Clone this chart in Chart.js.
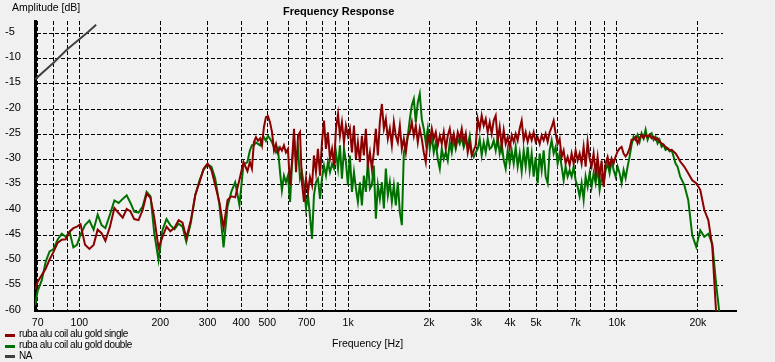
<!DOCTYPE html>
<html>
<head>
<meta charset="utf-8">
<title>Frequency Response</title>
<script src="https://cdn.jsdelivr.net/npm/chart.js@4.4.0/dist/chart.umd.min.js"></script>
<style>
    html, body { margin: 0; padding: 0; background: #f0f0f0; }
    #wrap { position: relative; width: 775px; height: 362px; font-family: 'Liberation Sans', Arial, sans-serif; color: #000; }
    #chart { position: absolute; left: 0; top: 0; }
    .txt { position: absolute; white-space: nowrap; line-height: 1; }
    .sw { position: absolute; left: 5px; width: 10px; height: 3px; }
</style>
</head>
<body>
<div id="wrap">
    <canvas id="chart" width="775" height="362"></canvas>
    <div class="txt" style="left:12px; top:2px; font-size:10.5px;">Amplitude [dB]</div>
    <div class="txt" style="left:283px; top:6px; font-size:11px; font-weight:bold;">Frequency Response</div>
    <div class="txt" style="left:332px; top:338px; font-size:10.5px;">Frequency [Hz]</div>

    <div class="sw" style="top:334px; background:#8b0000;"></div>
    <div class="txt" style="left:19px; top:329px; font-size:10px; letter-spacing:-0.4px;">ruba alu coil alu gold single</div>
    <div class="sw" style="top:345px; background:#007000;"></div>
    <div class="txt" style="left:19px; top:340px; font-size:10px; letter-spacing:-0.4px;">ruba alu coil alu gold double</div>
    <div class="sw" style="top:355px; background:#404040;"></div>
    <div class="txt" style="left:19px; top:351px; font-size:10px; letter-spacing:-0.4px;">NA</div>
</div>

<script>
// frequencies (Hz) for both measurements
const FREQ = [
    68.5, 70, 72.5, 75, 77.5, 80, 83, 86, 89, 92, 95, 98, 101, 105, 109, 113, 117, 121, 125, 130,
    135, 140, 145, 150, 155, 160, 166, 172, 178, 184, 190, 197, 204, 211, 218, 226, 234, 242, 250, 260,
    270, 280, 290, 300, 310, 320, 332, 344, 356, 368, 380, 394, 408, 422,
    431, 438.5, 446, 454, 462, 470, 478, 486, 494.5, 503, 512, 521, 530, 539, 548, 558, 567, 577, 587, 597,
    608, 618, 629, 640, 651, 662, 673, 685, 697, 709, 721, 734, 746, 759, 772, 786, 799, 813, 827, 841,
    856, 871, 886, 901, 917, 932, 948, 965, 981, 998, 1015, 1033, 1051, 1069, 1087, 1106, 1125, 1144, 1164, 1184,
    1205, 1225, 1246, 1268, 1290, 1312, 1335, 1358, 1381, 1405, 1429, 1454, 1479, 1504, 1530, 1557, 1584, 1611, 1639, 1667,
    1696, 1725, 1755, 1785, 1816, 1847, 1879, 1911, 1944, 1978, 2012, 2047, 2082, 2118, 2155, 2192, 2230, 2268, 2307, 2347,
    2388, 2429, 2471, 2513, 2557, 2601, 2646, 2691, 2738, 2785, 2833, 2882, 2932, 2982, 3034, 3086, 3139, 3194, 3249, 3305,
    3362, 3420, 3479, 3539, 3600, 3662, 3726, 3790, 3855, 3922, 3990, 4059, 4129, 4200, 4272, 4346, 4421, 4498, 4575, 4654,
    4735, 4816, 4900, 4984, 5070, 5158, 5247, 5337, 5429, 5523, 5618, 5715, 5814, 5914, 6016, 6120, 6226, 6333, 6442, 6554,
    6667, 6782, 6899, 7018, 7139, 7263, 7388, 7516, 7645, 7777, 7912, 8048, 8187, 8329, 8472, 8619, 8768, 8919, 9073, 9230,
    9389, 9551, 9716, 9884, 10055, 10228, 10405, 10585, 10767, 10953, 11142, 11335, 11531, 11730, 11932, 12138, 12348, 12561, 12778, 12999,
    13223, 13452, 13684, 13920, 14161, 14405, 14654, 14907, 15164, 15426, 15693, 15964, 16239, 16520, 16805,
    17190, 17790, 18410, 19060, 19720, 20410, 21130, 21870, 22630, 23420, 24240
];

// ruba alu coil alu gold single (dB)
const SINGLE = [
    -55.8, -54.2, -52.9, -51.6, -49.8, -48.4, -46.5, -45.9, -45.8, -44.3,
    -43.6, -43.3, -42.8, -46.9, -47.7, -46.9, -43.9, -44.6, -46.1, -43.3,
    -39.6, -40.6, -41.5, -39.8, -40.3, -41.8, -42.0, -40.0, -36.8, -37.6,
    -41.5, -47.5, -45.3, -43.3, -44.2, -43.5, -42.0, -42.5, -45.5, -42.0,
    -37.0, -34.5, -31.8, -30.8, -32.1, -35.0, -38.5, -43.5, -38.0, -37.3,
    -37.5, -34.0, -30.5, -32.3,
    // 431 Hz - 1.2 kHz
    -30.5, -31.8, -26.6, -25.6, -26.3, -25.8, -27.2, -23.6, -21.6, -21.4,
    -22.6, -24.6, -28.2, -26.9, -28.6, -27.6, -28.2, -27.2, -28.6, -27.9,
    -35.1, -30.5, -23.9, -32.5, -25.3, -24.6, -34.5, -38.4, -33.8, -36.4,
    -33.5, -35.1, -29.2, -32.5, -27.9, -33.2, -26.6, -22.3, -27.9, -24.6,
    -29.9, -27.9, -31.2, -23.9, -21.0, -25.3, -22.6, -26.6, -23.3, -25.3,
    -23.9, -28.6, -23.3, -29.9, -26.6, -30.5, -25.3, -29.2, -23.9, -31.2,
    -28.6,
    // 1.2 kHz - 3.4 kHz
    -31.8, -28.6, -23.9, -29.2, -22.6, -19.0, -23.9, -22.0, -25.9, -23.9,
    -27.2, -22.6, -25.3, -26.6, -23.3, -27.9, -25.9, -28.6, -25.3, -24.6,
    -22.6, -25.3, -23.3, -26.6, -23.9, -25.9, -28.6, -30.5, -25.3, -26.6,
    -23.9, -25.9, -24.6, -27.2, -25.3, -26.9, -24.6, -27.9, -25.3, -23.9,
    -26.6, -24.9, -27.2, -24.6, -25.9, -23.9, -26.6, -24.9, -28.6, -26.6,
    -29.2, -28.2, -27.2, -22.0, -23.9, -21.3, -23.3, -22.0, -24.6, -22.6,
    // 3.4 kHz - 9.7 kHz
    -24.9, -22.3, -21.3, -26.2, -23.6, -27.5, -24.2, -26.9, -25.6, -27.8,
    -25.2, -26.5, -24.9, -26.2, -23.9, -22.3, -26.2, -24.6, -26.5, -24.9,
    -26.2, -24.6, -26.5, -25.6, -26.9, -25.2, -26.2, -24.9, -26.5, -24.6,
    -23.6, -22.3, -24.9, -26.9, -25.9, -29.5, -28.2, -30.8, -29.5, -31.1,
    -28.8, -30.8, -28.2, -30.2, -28.8, -30.8, -27.5, -31.4, -26.5, -29.8,
    -31.4, -28.8, -32.7, -29.5, -33.4, -30.2, -35.4, -30.8, -29.5, -31.4,
    -29.8, -30.8,
    // 9.9 kHz - 16.8 kHz
    -29.4, -28.4, -27.8, -27.5, -28.8, -29.4, -28.8, -27.8, -26.1, -26.1,
    -25.5, -26.8, -25.8, -25.1, -25.8, -25.1, -25.5, -25.1, -25.8, -25.5,
    -26.1, -25.8, -26.5, -26.8, -27.1, -27.5, -27.8, -28.1, -28.1, -28.4,
    -28.8, -29.4,
    // roll-off
    -30.4, -31.4, -32.7, -34.1, -34.7, -36.0, -40.0, -42.0, -47.3, -61.0, -62.0
];

// ruba alu coil alu gold double (dB)
const DOUBLE = [
    -58.9, -56.0, -53.9, -50.2, -48.2, -47.8, -45.9, -44.7, -45.3, -44.3,
    -47.4, -46.9, -44.9, -43.0, -42.1, -43.9, -40.9, -43.0, -43.6, -40.9,
    -38.1, -38.6, -37.8, -37.1, -38.6, -40.3, -40.5, -39.3, -36.4, -37.3,
    -44.6, -49.9, -43.9, -41.8, -43.0, -43.8, -42.7, -43.3, -46.3, -42.5,
    -37.0, -34.1, -32.0, -31.0, -31.4, -33.7, -39.0, -47.4, -39.3, -36.3,
    -34.5, -39.0, -31.0, -30.5,
    // 431 Hz - 1.2 kHz
    -28.2, -27.2, -27.2, -26.6, -26.9, -27.2, -25.9, -25.6, -26.3, -25.3,
    -25.9, -26.6, -27.6, -28.6, -27.9, -32.5, -36.1, -33.2, -34.5, -33.2,
    -38.4, -31.2, -25.9, -29.9, -27.9, -33.8, -32.5, -35.1, -39.7, -37.1,
    -41.1, -45.7, -37.1, -34.5, -33.8, -37.8, -33.8, -31.2, -33.2, -30.5,
    -32.5, -30.9, -31.8, -28.6, -31.8, -27.2, -33.8, -27.9, -30.5, -35.1,
    -29.2, -36.4, -32.5, -35.8, -38.4, -34.5, -39.1, -33.2, -36.4, -30.5,
    -35.8,
    // 1.2 kHz - 3.4 kHz
    -35.1, -31.2, -41.7, -35.1, -37.8, -34.5, -39.7, -31.8, -37.1, -34.5,
    -38.4, -35.1, -39.1, -34.5, -40.4, -43.0, -28.6, -27.2, -25.3, -22.0,
    -19.3, -18.0, -22.6, -18.7, -17.0, -22.0, -23.9, -26.6, -23.9, -27.9,
    -25.3, -28.6, -26.6, -29.9, -31.8, -27.9, -29.9, -28.6, -30.2, -26.6,
    -28.6, -25.9, -27.9, -25.9, -26.9, -25.6, -27.6, -26.3, -27.2, -25.3,
    -28.6, -29.5, -28.6, -27.9, -25.9, -29.2, -26.6, -28.6, -25.9, -27.9,
    // 3.4 kHz - 9.7 kHz
    -27.5, -26.2, -28.2, -25.6, -28.8, -26.9, -30.1, -31.8, -28.2, -30.8,
    -28.2, -30.8, -27.5, -31.4, -28.8, -32.4, -28.2, -31.4, -27.5, -32.1,
    -28.8, -33.4, -29.5, -34.7, -28.8, -32.1, -28.2, -33.4, -34.7, -28.2,
    -26.2, -28.8, -27.5, -30.8, -28.8, -31.4, -34.1, -31.4, -33.4, -32.1,
    -33.4, -31.4, -34.1, -35.4, -37.3, -34.7, -38.0, -33.4, -35.4, -32.7,
    -35.4, -32.7, -34.7, -31.4, -36.0, -33.4, -34.7, -32.1, -30.8, -32.7,
    -30.2, -32.1,
    // 9.9 kHz - 16.8 kHz
    -33.4, -31.4, -32.7, -34.7, -32.1, -33.7, -31.4, -29.4, -27.1, -25.5,
    -26.1, -25.1, -26.5, -24.8, -25.8, -24.1, -26.1, -25.1, -24.8, -26.1,
    -25.5, -26.8, -26.1, -27.5, -27.1, -28.1, -27.8, -28.4, -28.1, -29.4,
    -30.8, -31.4,
    // roll-off
    -33.4, -35.0, -38.0, -45.0, -47.3, -44.0, -45.3, -44.7, -46.7, -55.0, -62.0
];

// NA reference line
const NA_FREQ = [68.5, 80, 90, 100, 108, 115.5];
const NA_DB = [-14.1, -10.9, -8.2, -6.2, -4.7, -3.3];

// axis ticks
const X_TICKS = [70, 80, 90, 100, 200, 300, 400, 500, 600, 700, 800, 900, 1000, 2000, 3000, 4000, 5000, 6000, 7000, 8000, 9000, 10000, 20000];
const X_LABELS = ['70', '', '', '100', '200', '300', '400', '500', '', '700', '', '', '1k', '2k', '3k', '4k', '5k', '', '7k', '', '', '10k', '20k'];
const Y_TICKS = [-60, -55, -50, -45, -40, -35, -30, -25, -20, -15, -10, -5];

function toPoints(xs, ys) {
    return xs.map((x, i) => ({ x: x, y: ys[i] }));
}

// the x axis line runs a little past the plot on the right
const axisTail = {
    id: 'axisTail',
    afterDraw(chart) {
        const { ctx, chartArea } = chart;
        ctx.save();
        ctx.strokeStyle = '#000';
        ctx.lineWidth = 2;
        ctx.beginPath();
        ctx.moveTo(chartArea.right, chartArea.bottom);
        ctx.lineTo(chartArea.right + 14, chartArea.bottom);
        ctx.stroke();
        ctx.restore();
    }
};

const tickFont = { family: "'Liberation Sans', Arial, sans-serif", size: 11 };

new Chart(document.getElementById('chart').getContext('2d'), {
    type: 'line',
    data: {
        datasets: [
            {
                label: 'ruba alu coil alu gold single',
                data: toPoints(FREQ, SINGLE),
                borderColor: '#8b0000',
                borderWidth: 2,
                pointRadius: 0,
                tension: 0,
                order: 1
            },
            {
                label: 'ruba alu coil alu gold double',
                data: toPoints(FREQ, DOUBLE),
                borderColor: '#007000',
                borderWidth: 2,
                pointRadius: 0,
                tension: 0,
                order: 2
            },
            {
                label: 'NA',
                data: toPoints(NA_FREQ, NA_DB),
                borderColor: '#404040',
                borderWidth: 2,
                pointRadius: 0,
                tension: 0,
                order: 0
            }
        ]
    },
    options: {
        responsive: false,
        animation: false,
        devicePixelRatio: 1,
        layout: { padding: { left: 5, top: 21, right: 52, bottom: 0 } },
        plugins: {
            legend: { display: false },
            tooltip: { enabled: false },
            title: { display: false }
        },
        scales: {
            x: {
                type: 'logarithmic',
                min: 68.4,
                max: 24800,
                afterFit: s => { s.height = 51; },
                afterBuildTicks: s => { s.ticks = X_TICKS.map(v => ({ value: v })); },
                grid: { color: '#000', lineWidth: 1, drawTicks: false },
                border: { display: true, color: '#000', width: 2, dash: [4, 2] },
                ticks: {
                    autoSkip: false,
                    maxRotation: 0,
                    minRotation: 0,
                    padding: 6,
                    color: '#000',
                    font: { family: tickFont.family, size: 10.5 },
                    callback: (v, i) => X_LABELS[i]
                }
            },
            y: {
                type: 'linear',
                min: -60,
                max: -2.57,
                afterFit: s => { s.width = 30; },
                afterBuildTicks: s => { s.ticks = Y_TICKS.map(v => ({ value: v })); },
                grid: { color: '#000', lineWidth: 1, drawTicks: false },
                border: { display: true, color: '#000', width: 3, dash: [4, 2] },
                ticks: {
                    crossAlign: 'far',
                    labelOffset: -1.5,
                    color: '#000',
                    font: tickFont,
                    callback: v => String(v)
                }
            }
        }
    },
    plugins: [axisTail]
});
</script>
</body>
</html>
